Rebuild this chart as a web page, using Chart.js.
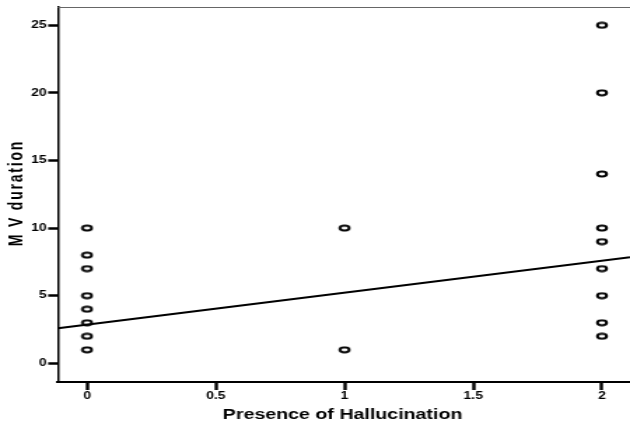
<!DOCTYPE html>
<html><head><meta charset="utf-8">
<script src="https://cdn.jsdelivr.net/npm/chart.js@4.4.1/dist/chart.umd.min.js"></script>
<style>
html,body{margin:0;padding:0;background:#fff;overflow:hidden;width:630px;height:422px}
#wrap{width:450px;height:422px;transform:scaleX(1.4);transform-origin:0 0;}
</style></head><body>
<div id="wrap"><canvas id="c"></canvas></div>
<script>
// ---- data ----
const categories = [0, 1, 2];
const mvDurationAt0 = [1, 2, 3, 4, 5, 7, 8, 10];
const mvDurationAt1 = [1, 10];
const mvDurationAt2 = [2, 3, 5, 7, 9, 10, 14, 20, 25];
const fitLineX = [-0.113, 2.109];
const fitLineY = [2.60, 7.85];
const xTicks = [0, 0.5, 1, 1.5, 2];
const yTicks = [0, 5, 10, 15, 20, 25];
const xTitle = 'Presence of Hallucination';
const yTitle = 'M V duration';

const groups = [mvDurationAt0, mvDurationAt1, mvDurationAt2];
const points = [];
categories.forEach((c, i) => groups[i].forEach(v => points.push({x: c, y: v})));
const fitPoints = fitLineX.map((x, i) => ({x: x, y: fitLineY[i]}));

// ellipse marker
const mk = document.createElement('canvas');
mk.width = 10; mk.height = 8;
const mc = mk.getContext('2d');
mc.beginPath();
mc.ellipse(5, 4, 3.3, 2.4, 0, 0, Math.PI * 2);
mc.fillStyle = '#fff'; mc.fill();
mc.lineWidth = 2; mc.strokeStyle = '#000'; mc.stroke();

const FONT = '"Liberation Sans", Arial, sans-serif';

const titlePlugin = {
  id: 'titles',
  afterDraw(chart) {
    const ctx = chart.ctx, a = chart.chartArea;
    ctx.save();
    ctx.strokeStyle = '#666'; ctx.lineWidth = 1;
    ctx.beginPath(); ctx.moveTo(a.left, a.top + 0.5); ctx.lineTo(chart.width, a.top + 0.5); ctx.stroke();
    ctx.fillStyle = '#000';
    ctx.font = 'bold 14px ' + FONT;
    ctx.textAlign = 'center'; ctx.textBaseline = 'alphabetic';
    ctx.fillText(xTitle, (a.left + a.right) / 2 - 1, 419);
    ctx.restore();

    ctx.save();
    ctx.fillStyle = '#000';
    ctx.font = 'bold 14px ' + FONT;
    ctx.letterSpacing = '1.8px';
    ctx.translate(11.8, 193);
    ctx.rotate(-Math.PI / 2);
    ctx.textAlign = 'center'; ctx.textBaseline = 'middle';
    ctx.fillText(yTitle, 0, 0);
    ctx.restore();
  }
};

new Chart(document.getElementById('c'), {
  type: 'scatter',
  data: {
    datasets: [
      {
        type: 'line', data: fitPoints, borderColor: '#000', borderWidth: 2,
        pointRadius: 0, fill: false, showLine: true, order: 0
      },
      {
        data: points, pointStyle: mk, pointRadius: 4, order: 1,
        borderColor: '#000', backgroundColor: '#fff'
      }
    ]
  },
  options: {
    responsive: true, maintainAspectRatio: false, animation: false,
    layout: {autoPadding: false, padding: {top: 7, right: 0, left: 0, bottom: 0}},
    plugins: {legend: {display: false}, tooltip: {enabled: false}},
    scales: {
      x: {
        type: 'linear', min: fitLineX[0], max: fitLineX[1],
        afterBuildTicks: s => { s.ticks = xTicks.map(v => ({value: v})); },
        afterFit: s => { s.height = 40; s.paddingLeft = 0; s.paddingRight = 0; },
        grid: {display: true, drawOnChartArea: false, drawTicks: true, tickLength: 8, tickColor: '#000', tickWidth: 2.4},
        border: {display: true, color: '#000', width: 2},
        ticks: {color: '#000', padding: 0, maxRotation: 0, autoSkip: false,
          font: {family: FONT, size: 10, weight: 'bold'}, callback: v => String(v)},
        title: {display: false}
      },
      y: {
        type: 'linear', min: -1.38, max: 26.35,
        afterBuildTicks: s => { s.ticks = yTicks.map(v => ({value: v})); },
        afterFit: s => { s.width = 41.4; s.paddingTop = 0; s.paddingBottom = 0; },
        grid: {display: true, drawOnChartArea: false, drawTicks: true, tickLength: 7, tickColor: '#000', tickWidth: 2.5},
        border: {display: true, color: '#000', width: 1.5},
        ticks: {color: '#000', padding: 1, autoSkip: false,
          font: {family: FONT, size: 10, weight: 'bold'}, callback: v => String(v)},
        title: {display: false}
      }
    }
  },
  plugins: [titlePlugin]
});
</script>
</body></html>
